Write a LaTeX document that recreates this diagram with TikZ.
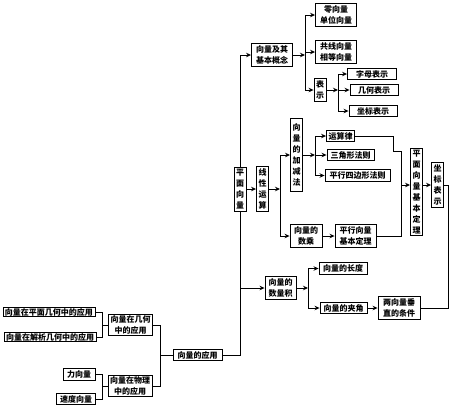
\documentclass[tikz,border=0pt]{standalone}
\usepackage{fontspec}
\newfontfamily\cjk{Noto Sans CJK SC}
\usetikzlibrary{arrows.meta}
\begin{document}
\begin{tikzpicture}[x=1pt,y=-1pt,line width=0.9pt,
    box/.style={draw,inner sep=2pt,align=center,font=\cjk\bfseries\fontsize{8}{11}\selectfont},
    arr/.style={-{Stealth[length=5pt,width=4.5pt]}}]
        \useasboundingbox (0,0) rectangle (450,405);
        % basic concepts
        \node [box,minimum width=41pt] (gn) at (272,55) {向量及其\\基本概念};
        \node [box,minimum width=41pt] (zero) at (336,15) {零向量\\单位向量};
        \node [box,minimum width=41pt] (colin) at (336,52) {共线向量\\相等向量};
        \node [box] (rep) at (320,90) {表\\示};
        \node [box,minimum width=49pt] (letter) at (372,74) {字母表示};
        \node [box,minimum width=48pt] (geom) at (374,90) {几何表示};
        \node [box,minimum width=48pt] (coord) at (373,111) {坐标表示};
        % linear operations
        \node [box] (pv) at (240,189) {平\\面\\向\\量};
        \node [box] (lin) at (262.5,189) {线\\性\\运\\算};
        \node [box,minimum height=73pt] (addsub) at (296.5,155) {向\\量\\的\\加\\减\\法};
        \node [box,minimum width=32pt] (scal) at (306,236) {向量的\\数乘};
        \node [box] (law) at (340.5,136) {运算律};
        \node [box,minimum width=47pt] (tri) at (350.5,155) {三角形法则};
        \node [box,minimum width=65pt] (para) at (357.5,175.5) {平行四边形法则};
        \node [box,minimum width=41pt] (colthm) at (355.5,236) {平行向量\\基本定理};
        \node [box] (basis) at (416.5,192) {平\\面\\向\\量\\基\\本\\定\\理};
        \node [box] (cs) at (437.5,185) {坐\\标\\表\\示};
        % dot product
        \node [box,minimum width=31pt] (dot) at (280.5,288) {向量的\\数量积};
        \node [box,minimum width=48pt] (len) at (343,268.5) {向量的长度};
        \node [box,minimum width=47pt] (ang) at (343.5,308) {向量的夹角};
        \node [box,minimum width=42pt] (perp) at (399,308) {两向量垂\\直的条件};
        % applications
        \node [box,minimum width=49pt] (app) at (197.5,355) {向量的应用};
        \node [box,inner ysep=1pt] (geo) at (130.5,325) {向量在几何\\中的应用};
        \node [box,inner ysep=1pt] (phy) at (130,386) {向量在物理\\中的应用};
        \node [box,inner ysep=1pt] (pg) at (49,312) {向量在平面几何中的应用};
        \node [box,inner ysep=1pt] (ag) at (50,337) {向量在解析几何中的应用};
        \node [box,minimum width=32pt] (force) at (79,374.5) {力向量};
        \node [box,minimum width=39pt] (vel) at (76,399) {速度向量};
        % trunk
        \draw [arr] (pv) |- (gn);
        \draw [arr] (pv |- dot) -- (dot);
        \draw (pv) |- (app);
        \draw [arr] (pv) -- (lin);
        % concepts branches
        \coordinate (gn-b) at (305,55);
        \draw [arr] (gn) -- (gn-b);
        \draw (gn-b |- zero) -- (gn-b |- rep);
        \draw [arr] (gn-b |- zero) -- (zero);
        \draw [arr] (gn-b |- colin) -- (colin);
        \draw [arr] (gn-b |- rep) -- (rep);
        \coordinate (rep-b) at (338,90);
        \draw [arr] (rep) -- (rep-b);
        \draw (rep-b |- letter) -- (rep-b |- coord);
        \draw [arr] (rep-b |- letter) -- (letter);
        \draw [arr] (rep-b |- geom) -- (geom);
        \draw [arr] (rep-b |- coord) -- (coord);
        % linear operation branches
        \coordinate (lin-b) at (280,189);
        \draw [arr] (lin) -- (lin-b);
        \draw (lin-b |- addsub) -- (lin-b |- scal);
        \draw [arr] (lin-b |- addsub) -- (addsub);
        \draw [arr] (lin-b |- scal) -- (scal);
        \coordinate (add-b) at (315,155);
        \draw [arr] (addsub) -- (add-b);
        \draw (add-b |- law) -- (add-b |- para);
        \draw [arr] (add-b |- law) -- (law);
        \draw [arr] (add-b |- tri) -- (tri);
        \draw [arr] (add-b |- para) -- (para);
        \draw [arr] (scal) -- (colthm);
        \coordinate (k1) at (393,151);
        \coordinate (k2) at (401,151);
        \draw (law) -| (k1) -- (k2) |- (colthm);
        \draw [arr] (k2 |- cs) -- (basis.west |- cs);
        \draw [arr] (basis.east |- cs) -- (cs);
        \coordinate (k4) at (448,308);
        \draw (cs) -| (k4) -- (perp);
        % dot product branches
        \coordinate (dot-b) at (308,288);
        \draw [arr] (dot) -- (dot-b);
        \draw (dot-b |- len) -- (dot-b |- ang);
        \draw [arr] (dot-b |- len) -- (len);
        \draw [arr] (dot-b |- ang) -- (ang);
        \draw [arr] (ang) -- (perp);
        % application brackets
        \coordinate (app-b) at (160,355);
        \draw (app) -- (app-b);
        \draw (geo) -| (app-b);
        \draw (phy) -| (app-b);
        \coordinate (geo-b) at (102,325);
        \draw (geo-b) -- (geo);
        \draw (pg) -| (geo-b);
        \draw (ag) -| (geo-b);
        \coordinate (phy-b) at (102,386);
        \draw (phy-b) -- (phy);
        \draw (force) -| (phy-b);
        \draw (vel) -| (phy-b);
    \end{tikzpicture}
\end{document}
